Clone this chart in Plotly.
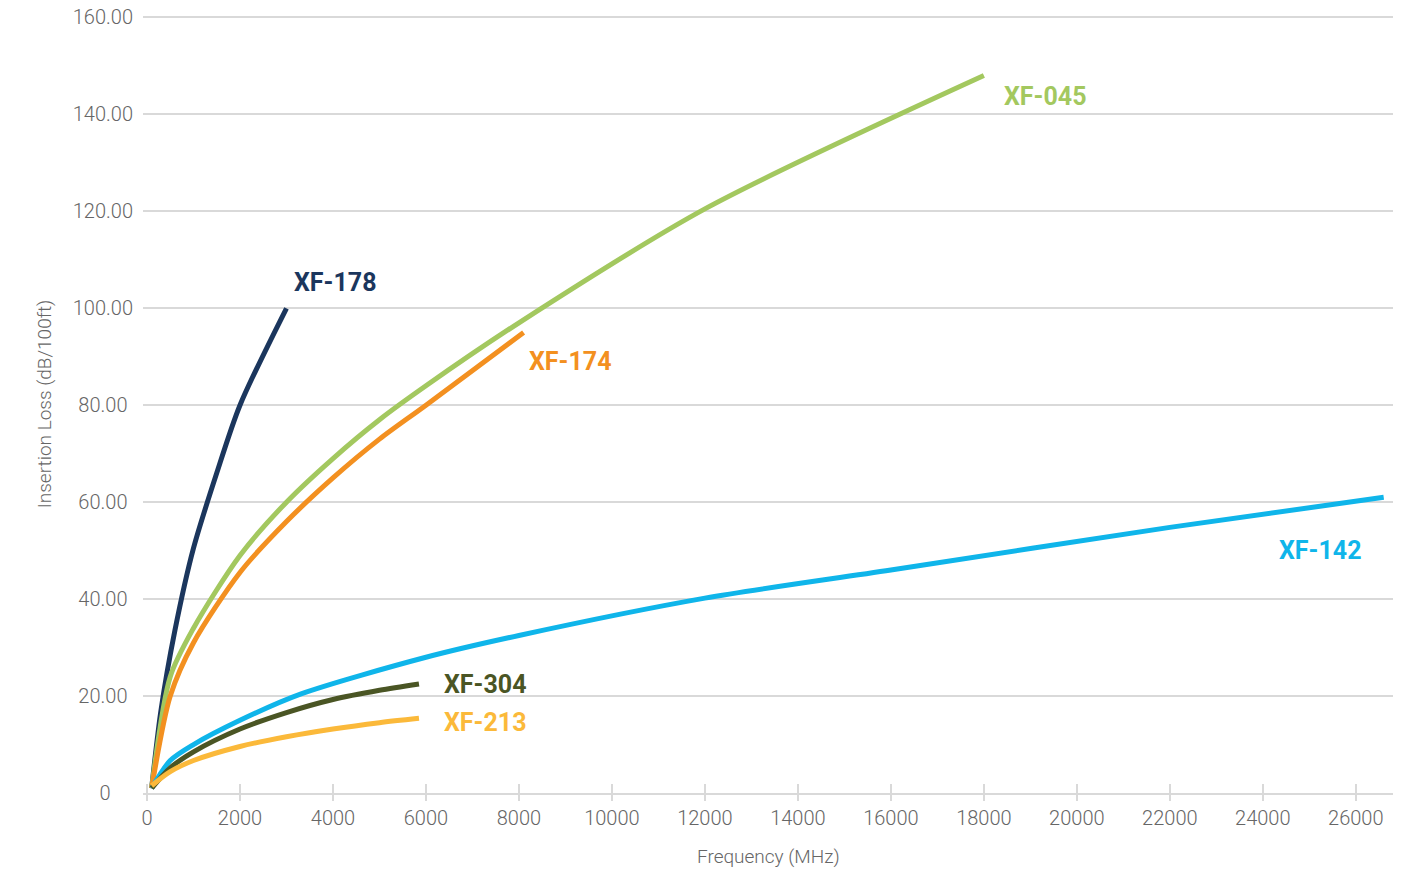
import plotly.graph_objects as go

# ---- data ----
freq_178 = [100, 300, 600, 1000, 1500, 2000, 3000]
loss_178 = [1.0, 17.0, 33.5, 50.5, 66.0, 80.0, 100.0]

freq_045 = [100, 500, 1000, 2000, 3000, 4000, 5000, 6000, 8000, 12000, 18000]
loss_045 = [1.0, 24.0, 34.0, 49.0, 60.0, 69.0, 77.0, 84.0, 97.0, 120.5, 148.0]

freq_174 = [100, 500, 1000, 2000, 3000, 4000, 5000, 6000, 8100]
loss_174 = [1.0, 20.0, 31.0, 45.5, 56.0, 65.0, 73.0, 80.0, 95.0]

freq_142 = [100, 500, 1000, 2000, 3300, 6000, 8000, 12000, 16000, 22000, 26600]
loss_142 = [1.0, 6.7, 10.0, 15.0, 20.4, 28.0, 32.5, 40.2, 46.0, 54.8, 61.0]

freq_304 = [100, 500, 1000, 2000, 3000, 4000, 5000, 5850]
loss_304 = [1.0, 5.2, 8.5, 13.2, 16.6, 19.3, 21.2, 22.5]

freq_213 = [100, 500, 1000, 2000, 3000, 4000, 5000, 5850]
loss_213 = [1.5, 4.4, 6.7, 9.6, 11.6, 13.2, 14.5, 15.4]

series_names = ["XF-178", "XF-045", "XF-174", "XF-142", "XF-304", "XF-213"]
series_colors = ["#1b365d", "#a3c85f", "#f39020", "#0fb5ea", "#4a5524", "#fbb93a"]

# label anchor positions (data coords)
label_x = [3120, 18390, 8170, 24300, 6340, 6340]
label_y = [105.4, 143.7, 89.0, 50.0, 22.4, 14.6]

x_ticks = list(range(0, 26001, 2000))
x_ticktext = [str(v) for v in x_ticks]
y_ticks = [0, 20, 40, 60, 80, 100, 120, 140, 160]
y_ticktext = ["0\u2007\u2007", "20.00\u2008", "40.00\u2008", "60.00\u2008", "80.00\u2008",
              "100.00", "120.00", "140.00", "160.00"]

X_RANGE = [-86, 26800]
Y_RANGE = [0, 160.5]

FONT = "Roboto, sans-serif"
GRID = "#d9d9d9"
TXT = "#666666"

W, H = 1415, 870
M_L, M_R, M_T, M_B = 143, 22, 15, 77
plot_h = H - M_T - M_B
TICK_UP = 10     # tick part above the axis line (px)
TICK_DOWN = 7    # tick part below the axis line (px)

fig = go.Figure()
data = [(freq_178, loss_178), (freq_045, loss_045), (freq_174, loss_174),
        (freq_142, loss_142), (freq_304, loss_304), (freq_213, loss_213)]
for i, ((fx, fy), name, col) in enumerate(zip(data, series_names, series_colors)):
    fig.add_trace(go.Scatter(
        x=fx, y=fy, mode="lines", name=name,
        line=dict(color=col, width=5, shape="spline", smoothing=0.8),
        xaxis="x2" if i == 5 else "x", showlegend=False, hoverinfo="x+y+name"))

for name, col, lx, ly in zip(series_names, series_colors, label_x, label_y):
    fig.add_annotation(x=lx, y=ly, text="<b>%s</b>" % name, showarrow=False,
                       xanchor="left", yanchor="middle",
                       font=dict(family=FONT, size=25, color=col))

# x-axis title as a paper-referenced annotation (below the tick labels)
fig.add_annotation(x=0.5, y=-64.0 / plot_h, xref="paper", yref="paper",
                   text="Frequency (MHz)", showarrow=False,
                   xanchor="center", yanchor="middle",
                   font=dict(family=FONT, size=19, color=TXT, weight=300))

fig.update_layout(
    width=W, height=H,
    margin=dict(l=M_L, r=M_R, t=M_T, b=M_B, autoexpand=False),
    paper_bgcolor="white", plot_bgcolor="white",
    font=dict(family=FONT, color=TXT, size=20),
    # main x axis: lifted TICK_UP px so its outside ticks cross the bottom line
    xaxis=dict(range=X_RANGE, tickvals=x_ticks, ticktext=x_ticktext,
               anchor="free", position=TICK_UP / plot_h,
               showgrid=False, zeroline=False, automargin=False, showline=False,
               ticks="outside", ticklen=TICK_UP + TICK_DOWN, tickwidth=2, tickcolor=GRID,
               tickfont=dict(family=FONT, size=20, color=TXT, weight=300)),
    # overlay axis drawing the bottom axis line
    xaxis2=dict(range=X_RANGE, overlaying="x", anchor="y", side="bottom",
                showticklabels=False, showgrid=False, zeroline=False, ticks="",
                automargin=False, showline=True, linecolor=GRID, linewidth=2),
    yaxis=dict(range=Y_RANGE, tickvals=y_ticks, ticktext=y_ticktext,
               showgrid=True, gridcolor=GRID, gridwidth=2,
               zeroline=True, zerolinecolor=GRID, zerolinewidth=2, showline=False,
               automargin=False, ticks="", ticklabelstandoff=9, ticklabeloverflow="allow",
               tickfont=dict(family=FONT, size=20, color=TXT, weight=300),
               title=dict(text="Insertion Loss (dB/100ft)", standoff=16,
                          font=dict(family=FONT, size=19, color=TXT, weight=300))),
)

fig.write_html("out.html", config={"displayModeBar": False},
               post_script="document.body.style.margin='0';")
